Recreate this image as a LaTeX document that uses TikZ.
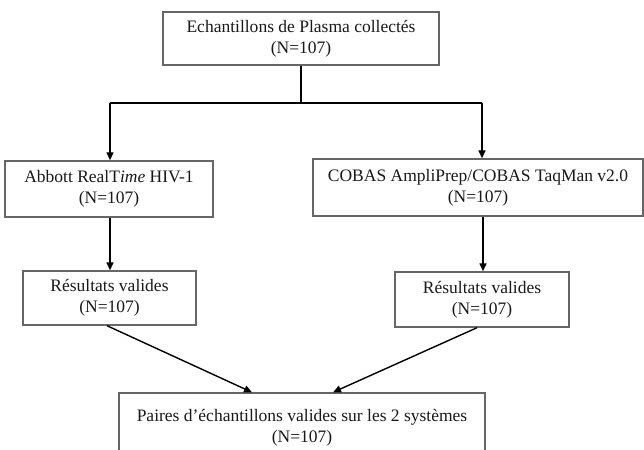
\documentclass[tikz,border=0pt]{standalone}
\usepackage{fontspec}
\setmainfont{Liberation Serif}
\usetikzlibrary{arrows.meta}
\begin{document}
\begin{tikzpicture}[x=1pt,y=-1pt,
  box/.style={draw=black!60, line width=1.4pt, fill=white, inner sep=0pt, align=center,
    font=\fontsize{17.5}{21}\selectfont, text=black!90},
  arr/.style={line width=1.4pt, -{Triangle[length=8pt,width=7pt]}},
  ln/.style={line width=1.4pt}]
\useasboundingbox (0,0) rectangle (644,449);
\clip (0,0) rectangle (644,449);
\node[box, minimum width=276pt, minimum height=53pt] (top) at (301,38.5) {Echantillons de Plasma collectés\\(N=107)};
\node[box, minimum width=208pt, minimum height=56pt] (abbott) at (109,189) {Abbott RealT\textit{ime} HIV-1\\(N=107)};
\node[box, minimum width=330pt, minimum height=57pt] (cobas) at (478,187.5) {COBAS AmpliPrep/COBAS TaqMan v2.0\\(N=107)};
\node[box, minimum width=173pt, minimum height=54pt] (resl) at (109.5,298) {Résultats valides\\(N=107)};
\node[box, minimum width=174pt, minimum height=55pt] (resr) at (482,299.5) {Résultats valides\\(N=107)};
\node[box, minimum width=366pt, minimum height=66pt, text depth=0pt] (pairs) at (302,426) {Paires d’échantillons valides sur les 2 systèmes\\(N=107)};
\coordinate (j) at (301,103);
\coordinate (jl) at (110,103);
\coordinate (jr) at (482,103);
\draw[ln] (top.south) -- (j);
\draw[ln] (jl) -- (jr);
\draw[arr] (jl) -- (jl |- abbott.north);
\draw[arr] (jr) -- (jr |- cobas.north);
\draw[arr] (abbott.south -| jl) -- (resl.north -| jl);
\draw[arr] ([xshift=1pt]cobas.south -| jr) -- ([xshift=1pt]resr.north -| jr);
\draw[arr] ([xshift=-2.5pt]resl.south) -- ([xshift=-50pt]pairs.north);
\draw[arr] ([xshift=-5pt]resr.south) -- ([xshift=31pt]pairs.north);
\end{tikzpicture}
\end{document}
